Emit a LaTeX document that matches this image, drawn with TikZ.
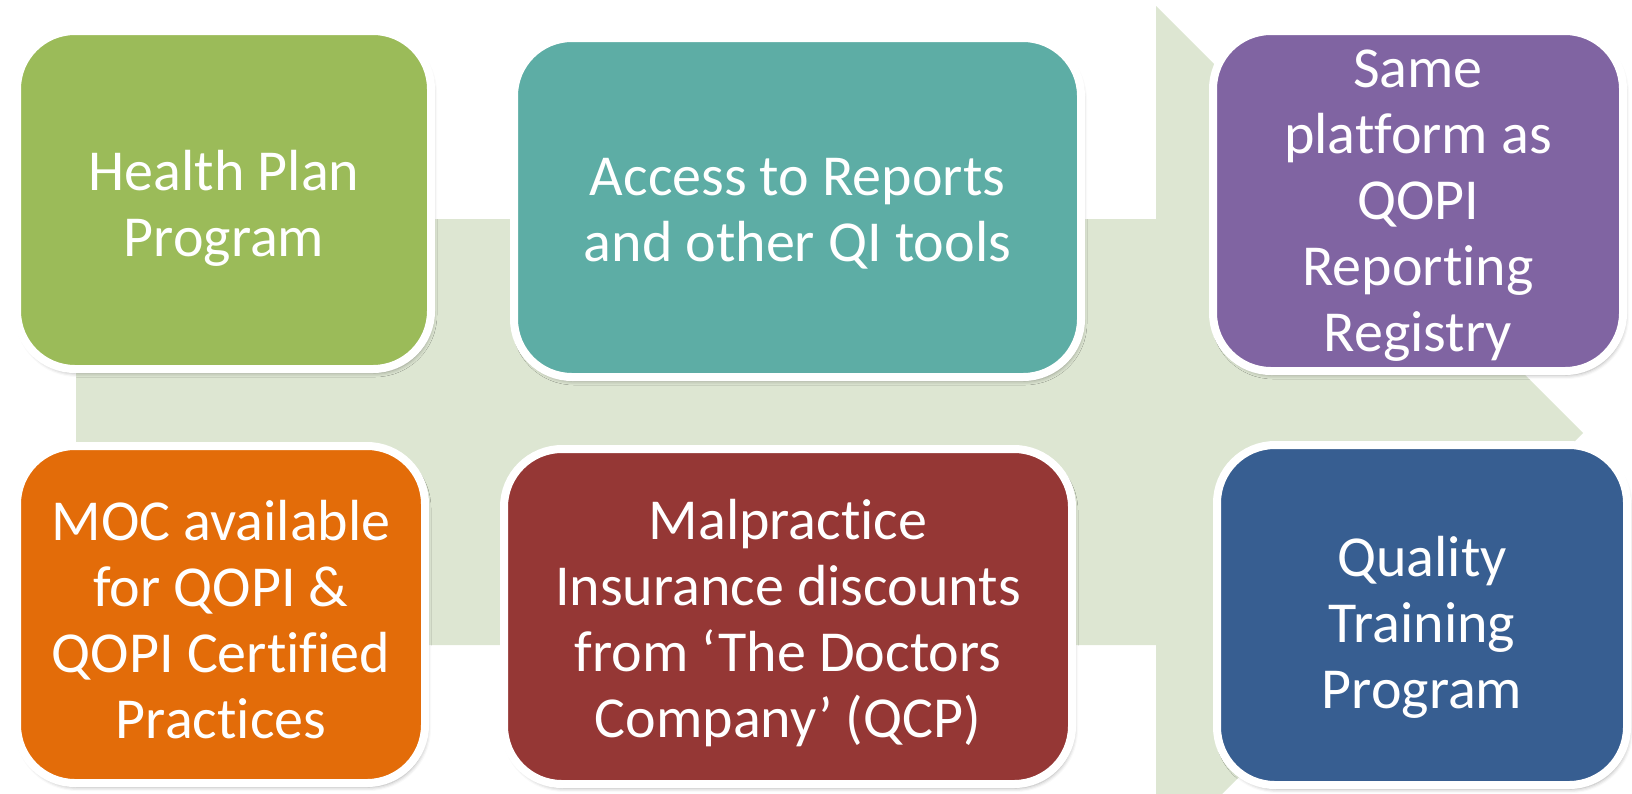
\documentclass[tikz,border=0pt]{standalone}
\usepackage{fontspec}
\setmainfont[RawFeature={-liga}]{Carlito}
\usetikzlibrary{shadows.blur}
\definecolor{arrowgreen}{HTML}{DDE6D2}
\definecolor{cgreen}{HTML}{9BBB59}
\definecolor{cteal}{HTML}{5DADA5}
\definecolor{cpurple}{HTML}{8064A2}
\definecolor{corange}{HTML}{E36C09}
\definecolor{cred}{HTML}{953735}
\definecolor{cblue}{HTML}{375E91}
\begin{document}
\begin{tikzpicture}[x=1pt,y=-1pt,
  card/.style={rectangle, rounded corners=58pt, draw=white, line width=8pt, inner sep=0pt,
    blur shadow={shadow xshift=2pt, shadow yshift=-4pt, shadow blur radius=4pt, shadow opacity=35}},
  cardtext/.style={text=white, align=center, font=\fontsize{58}{66}\selectfont, inner sep=0pt},
  bigarrow/.style={fill=arrowgreen, draw=none}
]
\useasboundingbox (0,0) rectangle (1632,793);
\begin{scope}
\clip (0,0) rectangle (1632,793);
\fill[bigarrow] (76,219) -- (1156,219) -- (1156,6) -- (1583,433) -- (1156,860) -- (1156,645) -- (76,645) -- cycle;
\end{scope}
\node[card, fill=cgreen, minimum width=414pt, minimum height=338pt] (hp) at (224,200) {};
\node[card, fill=cteal, minimum width=567pt, minimum height=339pt] (ar) at (797.5,207.5) {};
\node[card, fill=cpurple, minimum width=410pt, minimum height=340pt] (sp) at (1418,201) {};
\node[card, fill=corange, minimum width=408pt, minimum height=337pt] (moc) at (221,614.5) {};
\node[card, fill=cred, minimum width=568pt, minimum height=335pt] (mal) at (788,616.5) {};
\node[card, fill=cblue, minimum width=410pt, minimum height=340pt] (qt) at (1422,615) {};
\node[cardtext] (hpt) at ([yshift=-8pt]hp.center) {Health Plan\\Program};
\node[cardtext] (art) at ([yshift=-6pt]ar.center) {Access to Reports\\and other QI tools};
\node[cardtext] (spt) at ([yshift=-5pt]sp.center) {Same\\platform as\\QOPI\\Reporting\\Registry};
\node[cardtext] (moct) at ([yshift=-5pt]moc.center) {MOC available\\for QOPI \&\\QOPI Certified\\Practices};
\node[cardtext] (malt) at ([yshift=-7pt]mal.center) {Malpractice\\Insurance discounts\\from ‘The Doctors\\Company’ (QCP)};
\node[cardtext] (qtt) at ([yshift=-12pt]qt.center) {Quality\\Training\\Program};
\end{tikzpicture}
\end{document}
